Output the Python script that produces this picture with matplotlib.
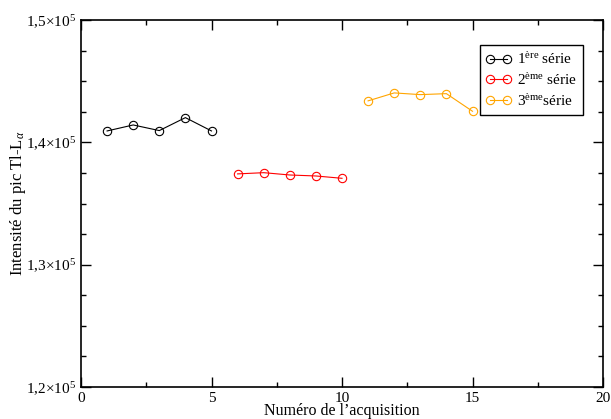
import matplotlib
matplotlib.use("Agg")
import matplotlib.pyplot as plt
from matplotlib.ticker import MultipleLocator, FuncFormatter

plt.rcParams['font.family'] = ['Liberation Serif', 'DejaVu Serif']
plt.rcParams['mathtext.fontset'] = 'custom'
plt.rcParams['mathtext.rm'] = 'Liberation Serif'
plt.rcParams['mathtext.it'] = 'Liberation Serif:italic'

# data
x1 = [1, 2, 3, 4, 5]
y1 = [1.4093e5, 1.4142e5, 1.4096e5, 1.4202e5, 1.4093e5]
x2 = [6, 7, 8, 9, 10]
y2 = [1.3742e5, 1.3752e5, 1.3733e5, 1.3725e5, 1.3706e5]
x3 = [11, 12, 13, 14, 15]
y3 = [1.4339e5, 1.4404e5, 1.4390e5, 1.4398e5, 1.4254e5]
labels = [r"1$^{\mathrm{ère}}$ série", r"2$^{\mathrm{ème}}$ série", r"3$^{\mathrm{ème}}$série"]

fig = plt.figure(figsize=(6.11, 4.19), dpi=100)
ax = fig.add_axes([81/611, 32/419, 522/611, 367/419])

style = dict(marker='o', mfc='none', ms=6, mew=0.8, lw=0.8)
ax.plot(x1, y1, color='black', label=labels[0], **style)
ax.plot(x2, y2, color='red', label=labels[1], **style)
ax.plot(x3, y3, color='orange', label=labels[2], **style)

ax.set_xlim(0, 20)
ax.set_ylim(1.2e5, 1.5e5)
ax.xaxis.set_major_locator(MultipleLocator(5))
ax.xaxis.set_minor_locator(MultipleLocator(2.5))
ax.yaxis.set_major_locator(MultipleLocator(1e4))
ax.yaxis.set_minor_locator(MultipleLocator(2.5e3))

def fmt(v, pos):
    return ("%.1f" % (v / 1e5)).replace('.', ',') + r"$\times$10$^{5}$"

ax.yaxis.set_major_formatter(FuncFormatter(fmt))
ax.tick_params(which='both', direction='in', top=True, right=True, labelsize=11, width=1)
ax.tick_params(which='major', length=7)
ax.tick_params(which='minor', length=3.6)
for s in ax.spines.values():
    s.set_linewidth(1.2)

ax.set_xlabel("Numéro de l\u2019acquisition", fontsize=11.5, labelpad=-1)
ax.set_ylabel(r"Intensité du pic Tl-L$_\alpha$", fontsize=12, labelpad=-1)

leg = ax.legend(loc='upper right', bbox_to_anchor=(0.962, 0.932), numpoints=2,
                handlelength=1.7, fontsize=11, fancybox=False, framealpha=1,
                edgecolor='black', borderaxespad=0, handletextpad=0.35,
                labelspacing=0.32, borderpad=0.4)
leg.get_frame().set_linewidth(1)

fig.savefig("out.png", dpi=100)
